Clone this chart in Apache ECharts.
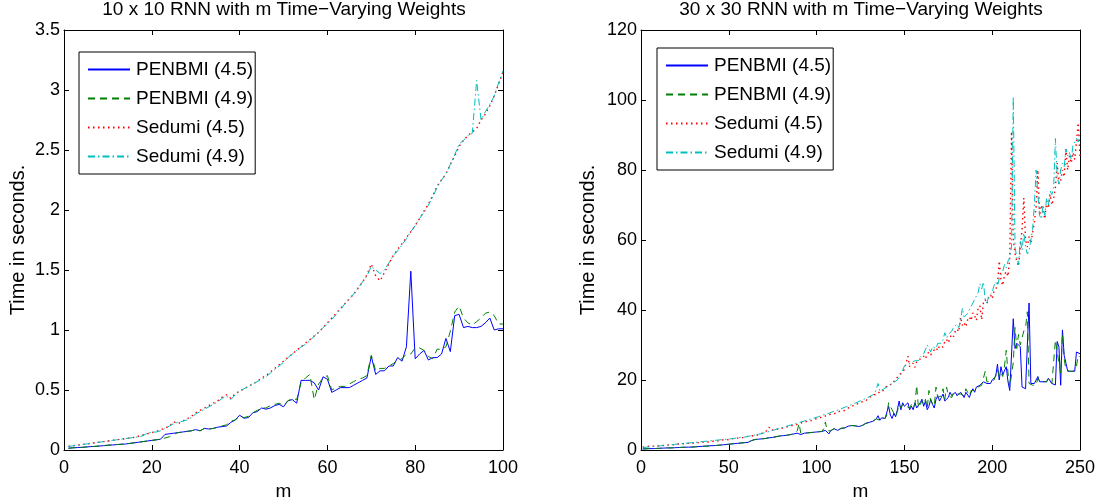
<!DOCTYPE html>
<html>
<head>
<meta charset="utf-8">
<script src="https://cdn.jsdelivr.net/npm/echarts@6/dist/echarts.min.js"></script>
<style>
html,body{margin:0;padding:0;background:#fff;}
#chart{width:1099px;height:499px;}
</style>
</head>
<body>
<div id="chart"></div>
<script>
// ---------- Data ----------
const seriesNames = ['PENBMI (4.5)', 'PENBMI (4.9)', 'Sedumi (4.5)', 'Sedumi (4.9)'];
const titleLeft = '10 x 10 RNN with m Time\u2212Varying Weights';
const titleRight = '30 x 30 RNN with m Time\u2212Varying Weights';
const xLabel = 'm';
const yLabel = 'Time in seconds.';

// Left plot: m = 1..100
const leftPenbmi45 = [
  0.015,0.018,0.02,0.022,0.025,0.028,0.03,0.033,0.036,0.04,
  0.042,0.045,0.048,0.05,0.055,0.06,0.065,0.07,0.075,0.08,
  0.085,0.09,0.13,0.135,0.14,0.145,0.15,0.155,0.16,0.17,
  0.16,0.18,0.175,0.18,0.19,0.195,0.2,0.23,0.25,0.29,
  0.265,0.27,0.31,0.32,0.35,0.34,0.35,0.37,0.38,0.36,
  0.41,0.42,0.39,0.58,0.58,0.58,0.56,0.5,0.61,0.59,
  0.48,0.5,0.52,0.52,0.52,0.54,0.56,0.58,0.6,0.78,
  0.63,0.66,0.66,0.7,0.7,0.77,0.74,0.86,1.49,0.76,
  0.8,0.83,0.75,0.77,0.77,0.8,0.93,0.82,1.12,1.13,
  1.02,1.03,1.02,1.02,1.03,1.06,1.1,1.0,1.01,1.01
];
const leftPenbmi49 = [
  0.015,0.018,0.02,0.022,0.025,0.028,0.03,0.033,0.036,0.04,
  0.042,0.045,0.048,0.05,0.055,0.06,0.065,0.07,0.075,0.08,
  0.085,0.09,0.1,0.11,0.13,0.145,0.15,0.155,0.16,0.17,
  0.16,0.18,0.175,0.18,0.19,0.2,0.21,0.24,0.25,0.28,
  0.27,0.28,0.31,0.33,0.35,0.35,0.37,0.38,0.39,0.37,
  0.41,0.43,0.42,0.56,0.6,0.63,0.42,0.55,0.6,0.62,
  0.5,0.52,0.53,0.53,0.55,0.57,0.59,0.6,0.62,0.79,
  0.66,0.68,0.68,0.7,0.72,0.75,0.76,0.8,0.8,0.85,
  0.85,0.83,0.78,0.76,0.84,0.84,0.86,0.99,1.15,1.2,
  1.1,1.06,1.04,1.07,1.1,1.14,1.15,1.12,1.05,1.05
];
const leftSedumi45 = [
  0.03,0.035,0.04,0.045,0.05,0.055,0.06,0.065,0.07,0.075,
  0.08,0.085,0.09,0.095,0.1,0.105,0.115,0.125,0.135,0.145,
  0.155,0.17,0.18,0.2,0.235,0.22,0.24,0.26,0.28,0.31,
  0.33,0.35,0.37,0.39,0.41,0.44,0.46,0.43,0.47,0.49,
  0.51,0.53,0.55,0.57,0.6,0.62,0.65,0.68,0.71,0.74,
  0.77,0.8,0.83,0.86,0.89,0.92,0.95,0.98,1.02,1.06,
  1.1,1.14,1.18,1.22,1.26,1.3,1.35,1.4,1.46,1.55,
  1.45,1.41,1.48,1.55,1.62,1.67,1.72,1.77,1.82,1.87,
  1.93,1.99,2.05,2.12,2.2,2.25,2.3,2.38,2.45,2.53,
  2.58,2.62,2.65,2.68,2.75,2.8,2.87,2.95,3.05,3.15
];
const leftSedumi49 = [
  0.03,0.035,0.04,0.045,0.05,0.055,0.06,0.065,0.07,0.075,
  0.08,0.085,0.09,0.095,0.1,0.105,0.11,0.12,0.14,0.15,
  0.15,0.16,0.18,0.2,0.22,0.23,0.24,0.25,0.27,0.3,
  0.32,0.34,0.36,0.38,0.4,0.43,0.45,0.42,0.46,0.49,
  0.51,0.53,0.55,0.57,0.59,0.61,0.64,0.67,0.7,0.73,
  0.77,0.8,0.83,0.86,0.88,0.91,0.95,0.98,1.02,1.05,
  1.09,1.13,1.17,1.22,1.26,1.3,1.35,1.4,1.45,1.53,
  1.5,1.47,1.5,1.56,1.62,1.66,1.71,1.76,1.82,1.87,
  1.93,1.98,2.04,2.11,2.19,2.25,2.3,2.38,2.46,2.55,
  2.58,2.62,2.64,3.08,2.75,2.82,2.88,2.95,3.06,3.16
];

// Right plot: m = 1..250
const rightPenbmi45 = [
  0.3,0.3,0.35,0.35,0.4,0.4,0.4,0.45,0.45,0.5,
  0.5,0.5,0.55,0.55,0.6,0.6,0.6,0.65,0.65,0.7,
  0.7,0.7,0.75,0.75,0.8,0.8,0.8,0.85,0.85,0.9,
  0.9,0.95,1.0,1.0,1.05,1.1,1.1,1.15,1.2,1.2,
  1.25,1.3,1.3,1.35,1.4,1.45,1.5,1.55,1.6,1.65,
  1.7,1.75,1.8,1.85,1.9,1.95,2.0,2.0,2.1,2.1,
  2.2,2.4,2.7,2.9,3.0,3.1,3.1,3.2,3.2,3.3,
  3.3,3.4,3.5,3.6,3.6,3.7,3.8,3.9,4.0,4.1,
  4.1,4.2,4.2,4.4,4.4,4.5,4.6,4.7,4.8,4.7,
  4.4,4.6,4.8,4.9,4.9,5.0,5.0,5.1,5.1,5.2,
  5.2,5.3,5.3,5.4,5.6,5.2,4.6,5.5,5.8,6.1,
  5.8,5.6,5.9,6.2,6.4,6.3,6.5,6.8,6.9,7.0,
  7.2,6.9,6.8,6.7,6.8,7.0,7.3,7.6,7.8,7.9,
  8.4,8.2,8.6,8.9,9.8,8.5,9.2,9.5,9.0,9.5,
  12.5,10.0,9.0,10.5,9.5,11.5,14.0,11.5,13.5,12.5,
  12.0,13.5,11.5,12.5,11.5,13.5,12.0,11.5,13.5,14.5,
  12.5,14.0,11.5,12.5,14.5,13.0,12.0,14.5,15.5,14.0,
  15.0,16.0,14.0,13.5,15.0,16.5,15.5,16.0,16.5,15.5,
  15.0,16.5,16.0,15.0,16.5,17.0,15.0,16.5,17.5,16.5,
  18.0,17.5,18.5,18.0,19.5,20.0,19.0,19.5,19.0,20.0,
  20.0,21.0,24.5,20.0,23.8,21.5,22.0,23.8,19.5,17.0,
  16.5,37.5,29.0,30.5,31.0,29.5,18.0,17.5,17.5,17.5,
  42.0,19.0,18.5,19.0,18.5,21.0,19.5,20.0,19.5,20.0,
  19.5,20.5,20.5,19.0,18.5,18.6,31.0,29.5,18.5,34.3,
  27.0,24.8,22.5,22.0,22.5,22.0,22.5,28.0,27.5,27.5
];
const rightPenbmi49 = [
  0.3,0.3,0.35,0.35,0.4,0.4,0.4,0.45,0.45,0.5,
  0.5,0.5,0.55,0.55,0.6,0.6,0.6,0.65,0.65,0.7,
  0.7,0.7,0.75,0.75,0.8,0.8,0.8,0.85,0.85,0.9,
  0.9,0.95,1.0,1.0,1.05,1.1,1.1,1.15,1.2,1.2,
  1.25,1.3,1.3,1.35,1.4,1.45,1.5,1.55,1.6,1.65,
  1.7,1.75,1.8,1.85,1.9,1.95,2.0,2.0,2.1,2.1,
  2.2,2.4,2.7,2.9,3.0,3.1,3.1,3.2,3.2,3.3,
  3.3,3.4,3.5,3.6,3.6,3.7,3.8,3.9,4.0,4.1,
  4.1,4.2,4.2,4.4,4.4,4.5,4.6,4.7,5.5,7.6,
  4.8,4.6,4.8,4.9,4.9,5.0,5.0,5.1,5.1,5.2,
  5.2,5.3,5.3,6.0,8.0,5.5,5.0,5.5,5.8,6.1,
  5.8,5.6,5.9,6.2,6.4,6.3,6.5,6.8,6.9,7.0,
  7.2,6.9,6.8,6.7,6.8,7.0,7.3,7.6,7.8,7.9,
  8.4,8.2,8.6,8.9,9.4,8.5,9.2,9.5,9.0,10.0,
  13.5,13.0,11.5,10.5,9.5,11.0,13.0,12.0,13.0,12.5,
  12.5,13.0,12.0,13.0,12.0,13.0,18.5,12.0,13.0,14.0,
  13.0,14.5,12.0,17.0,14.0,13.5,12.5,18.0,15.0,14.5,
  15.5,17.5,14.5,18.0,15.5,16.0,15.0,16.5,17.0,16.0,
  15.5,16.0,16.5,15.5,17.5,16.5,15.5,17.0,17.0,17.0,
  17.5,18.0,18.0,18.5,19.0,22.5,19.5,19.0,19.5,19.5,
  20.0,20.5,23.0,21.0,22.0,21.0,24.0,28.5,22.0,18.0,
  17.5,25.0,35.0,29.0,33.0,30.0,32.0,34.0,35.0,39.5,
  19.0,19.0,18.5,19.0,18.5,20.5,19.5,20.0,19.5,20.0,
  19.5,20.5,20.0,19.0,19.0,31.4,28.0,25.0,22.0,33.3,
  26.0,23.0,22.5,22.5,23.0,22.5,23.0,24.0,27.0,26.5
];
const rightSedumi45 = [
  0.8,0.9,1.0,0.9,1.1,1.0,1.1,1.2,1.1,1.2,
  1.3,1.2,1.3,1.5,1.4,1.4,1.5,1.6,1.5,1.6,
  1.7,1.6,1.7,1.8,1.9,1.8,1.9,2.0,1.9,2.0,
  2.1,2.0,2.1,2.2,2.3,2.2,2.3,2.4,2.3,2.5,
  2.5,2.6,2.5,2.7,2.8,2.7,2.9,3.0,2.9,3.1,
  3.1,3.2,3.3,3.2,3.4,3.5,3.4,3.6,3.7,3.8,
  3.9,3.8,4.0,4.1,4.2,4.4,4.3,4.6,4.8,5.0,
  5.2,5.5,6.5,5.6,5.5,5.8,5.9,6.0,5.8,6.2,
  6.3,6.5,6.4,6.7,6.9,7.0,7.2,7.1,7.4,7.5,
  7.6,7.9,7.7,8.1,8.3,8.2,8.5,8.6,8.8,9.0,
  9.1,9.3,9.5,9.4,9.7,10.0,9.8,10.2,10.4,10.3,
  10.6,10.9,10.8,11.2,11.5,11.3,11.7,12.0,12.2,12.4,
  12.6,13.0,12.8,13.3,13.5,13.8,14.2,14.0,14.6,15.0,
  15.3,15.1,15.8,16.2,16.0,16.8,17.2,17.0,17.8,18.2,
  18.6,19.0,18.8,19.6,20.2,20.8,21.4,21.0,22.4,23.0,
  22.6,26.8,23.8,24.2,24.8,23.6,25.2,25.8,25.4,26.2,
  26.8,26.0,27.4,28.0,27.2,26.8,28.6,29.2,28.4,29.8,
  30.2,29.4,31.0,31.6,30.6,32.2,33.0,32.4,34.0,34.6,
  33.8,38.0,35.6,36.4,35.2,37.2,38.0,37.0,39.2,38.4,
  37.0,40.6,41.2,37.2,42.0,43.0,41.8,43.6,44.4,43.2,
  45.4,46.0,47.0,54.0,48.6,47.0,50.0,51.0,49.6,55.0,
  91.0,60.0,56.0,54.0,52.5,58.0,63.0,72.0,60.0,58.0,
  61.0,59.0,62.0,65.0,69.5,80.0,67.0,70.0,68.0,66.0,
  71.0,69.0,73.0,70.0,72.0,75.0,82.0,76.0,77.0,80.0,
  78.0,86.0,80.0,84.0,82.0,85.0,83.0,88.0,93.5,84.0
];
const rightSedumi49 = [
  0.6,0.7,0.8,0.8,0.9,0.9,1.0,1.0,1.1,1.1,
  1.2,1.2,1.3,1.3,1.4,1.4,1.5,1.5,1.6,1.6,
  1.7,1.7,1.8,1.8,1.9,1.9,2.0,2.0,2.1,2.1,
  2.2,2.2,2.3,2.3,2.4,2.4,2.5,2.5,2.6,2.6,
  2.7,2.7,2.8,2.8,2.9,3.0,3.0,3.1,3.1,3.2,
  3.2,3.3,3.3,3.4,3.5,3.5,3.6,3.7,3.7,3.8,
  3.9,4.0,4.1,4.2,4.3,4.4,4.5,4.6,4.7,4.9,
  5.0,5.2,5.3,5.5,5.6,5.8,5.9,6.1,6.2,6.4,
  6.5,6.7,6.8,7.0,7.1,7.3,7.4,7.6,7.7,7.9,
  8.0,8.2,8.3,8.5,8.6,8.8,8.9,9.1,9.2,9.4,
  9.5,9.7,9.9,10.0,10.2,10.4,10.5,10.7,10.9,11.0,
  11.2,11.4,11.6,11.8,12.0,12.2,12.4,12.6,12.8,13.0,
  13.2,13.4,13.6,13.9,14.1,14.3,14.5,14.8,15.0,15.3,
  15.5,15.8,16.0,16.3,19.0,16.8,17.1,17.4,17.7,18.0,
  18.3,18.6,19.0,19.3,19.6,20.0,20.3,21.5,22.0,24.0,
  23.5,24.5,24.0,25.0,24.5,25.5,26.0,25.5,26.5,27.0,
  27.5,28.0,30.0,29.0,28.0,29.5,30.0,29.0,30.5,31.0,
  30.5,31.5,33.5,32.0,33.0,33.5,34.0,35.0,34.5,36.0,
  35.0,37.0,40.5,38.0,37.5,39.0,40.0,41.0,42.0,43.0,
  44.0,45.0,47.5,46.0,48.0,43.0,42.0,44.0,43.5,45.0,
  47.0,48.0,47.0,49.0,50.0,51.0,53.0,52.0,54.0,55.0,
  58.0,101.0,58.0,55.0,53.0,60.0,57.0,62.0,58.0,56.0,
  57.0,60.0,63.0,70.0,80.0,73.0,67.0,66.0,70.0,67.0,
  72.0,70.0,74.0,73.0,75.0,89.0,78.0,76.0,80.0,82.0,
  81.0,86.0,84.0,85.0,83.0,87.0,88.0,89.0,88.0,91.0
];

// Axis tick settings
const leftX = {min: 0, max: 100, interval: 20};
const leftY = {min: 0, max: 3.5, interval: 0.5};
const rightX = {min: 0, max: 250, interval: 50};
const rightY = {min: 0, max: 120, interval: 20};

// ---------- Styles ----------
const FONT = '"Liberation Sans", Arial, Helvetica, sans-serif';
const styles = [
  {color: '#0000ff', type: 'solid', width: 1},
  {color: '#008000', type: [7, 5], width: 1},
  {color: '#ff0000', type: [1.5, 3.5], width: 1.4},
  {color: '#00bfbf', type: [7, 3, 1.5, 3], width: 1}
];

function pairs(arr) { return arr.map((v, i) => [i + 1, v]); }

function makeX(range, gridIndex, bottom) {
  return {
    type: 'value', gridIndex: gridIndex, position: bottom ? 'bottom' : 'top',
    min: range.min, max: range.max, interval: range.interval,
    name: bottom ? xLabel : '', nameLocation: 'middle', nameGap: 21,
    nameTextStyle: {fontFamily: FONT, fontSize: 19, color: '#000'},
    axisLine: {show: true, onZero: false, lineStyle: {color: '#000', width: 1}},
    axisTick: {show: true, inside: true, length: 5, lineStyle: {color: '#000'}},
    axisLabel: {show: bottom, margin: 9, fontFamily: FONT, fontSize: 18, color: '#000'},
    splitLine: {show: false}
  };
}
function makeY(range, gridIndex, left, gap) {
  return {
    type: 'value', gridIndex: gridIndex, position: left ? 'left' : 'right',
    min: range.min, max: range.max, interval: range.interval,
    name: left ? yLabel : '', nameLocation: 'middle', nameGap: gap,
    nameTextStyle: {fontFamily: FONT, fontSize: 20, color: '#000'},
    axisLine: {show: true, onZero: false, lineStyle: {color: '#000', width: 1}},
    axisTick: {show: true, inside: true, length: 5, lineStyle: {color: '#000'}},
    axisLabel: {show: left, margin: 4, fontFamily: FONT, fontSize: 18, color: '#000'},
    splitLine: {show: false}
  };
}
function makeLegend(left, top) {
  return {
    data: seriesNames, orient: 'vertical', left: left, top: top,
    itemWidth: 42, itemHeight: 12, itemGap: 10,
    padding: [8, 2, 8, 8],
    borderColor: '#000', borderWidth: 1, backgroundColor: '#fff',
    selectedMode: false,
    itemStyle: {opacity: 0},
    textStyle: {fontFamily: FONT, fontSize: 19, color: '#000', padding: [0, 0, 0, 1]}
  };
}
function makeSeries(dataArr, idx, axisIdx) {
  return {
    name: seriesNames[idx], type: 'line', xAxisIndex: axisIdx, yAxisIndex: axisIdx,
    data: pairs(dataArr), symbol: 'none', showSymbol: false, smooth: false,
    lineStyle: {color: styles[idx].color, width: styles[idx].width, type: styles[idx].type},
    itemStyle: {color: styles[idx].color},
    emphasis: {disabled: true}, silent: true
  };
}

const chart = echarts.init(document.getElementById('chart'), null, {renderer: 'canvas'});
chart.setOption({
  animation: false,
  backgroundColor: '#fff',
  title: [
    {text: titleLeft, left: 284, top: 0, textAlign: 'center', padding: 0,
     textStyle: {fontFamily: FONT, fontSize: 19, fontWeight: 'normal', color: '#000'}},
    {text: titleRight, left: 861, top: 0, textAlign: 'center', padding: 0,
     textStyle: {fontFamily: FONT, fontSize: 19, fontWeight: 'normal', color: '#000'}}
  ],
  grid: [
    {left: 64, top: 30, width: 439, height: 420, containLabel: false, outerBoundsMode: 'none'},
    {left: 641, top: 30, width: 439, height: 420, containLabel: false, outerBoundsMode: 'none'}
  ],
  xAxis: [makeX(leftX, 0, true), makeX(leftX, 0, false), makeX(rightX, 1, true), makeX(rightX, 1, false)],
  yAxis: [makeY(leftY, 0, true, 36), makeY(leftY, 0, false, 0), makeY(rightY, 1, true, 43), makeY(rightY, 1, false, 0)],
  legend: [makeLegend(79, 52), makeLegend(657, 48)],
  series: [
    makeSeries(leftPenbmi45, 0, 0), makeSeries(leftPenbmi49, 1, 0),
    makeSeries(leftSedumi45, 2, 0), makeSeries(leftSedumi49, 3, 0),
    makeSeries(rightPenbmi45, 0, 2), makeSeries(rightPenbmi49, 1, 2),
    makeSeries(rightSedumi45, 2, 2), makeSeries(rightSedumi49, 3, 2)
  ]
});
</script>
</body>
</html>
